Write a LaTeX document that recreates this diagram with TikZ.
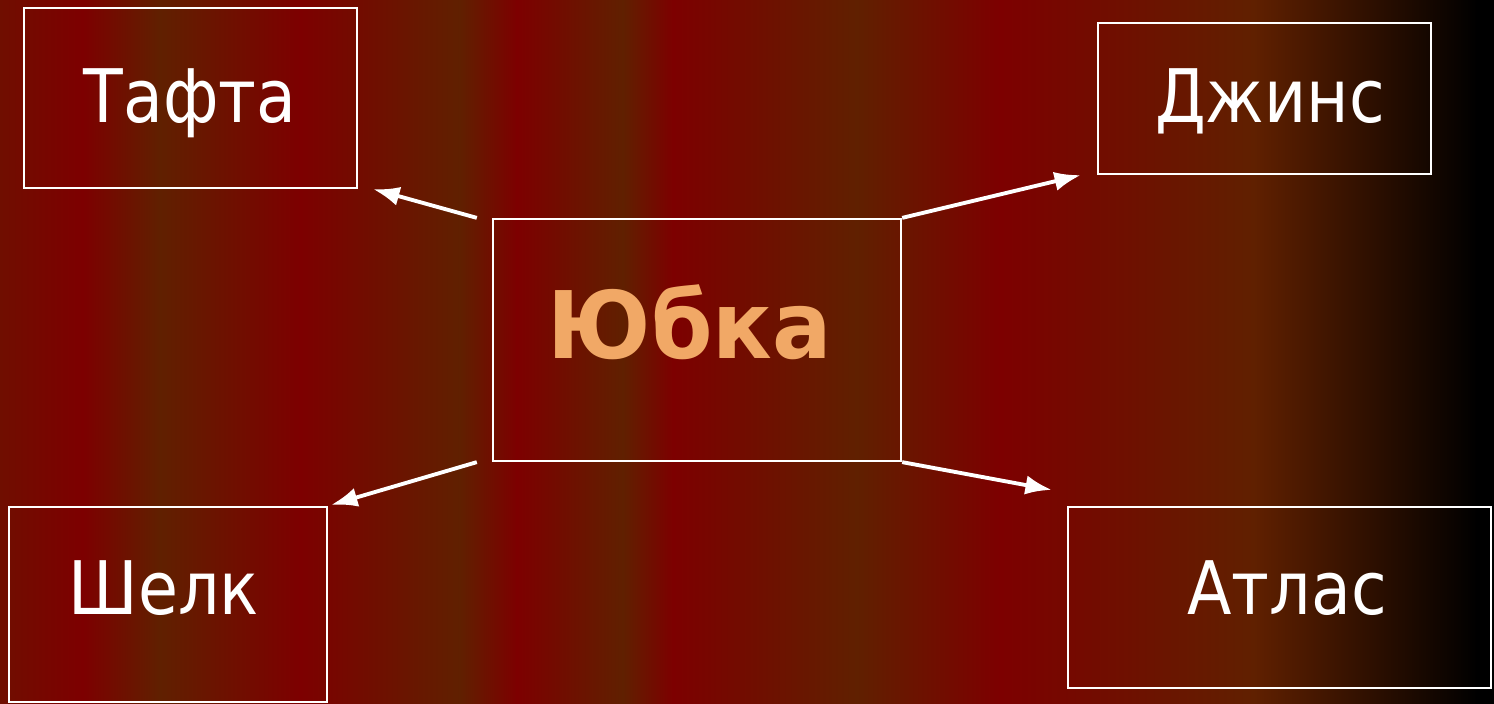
\documentclass[tikz,border=0pt]{standalone}
\usepackage{fontspec}
\setmainfont{DejaVu Sans}
\usepackage{xcolor}
\usepackage{graphicx}
\usetikzlibrary{arrows.meta}
\definecolor{stripered}{RGB}{125,0,0}
\definecolor{stripebrown}{RGB}{96,32,0}
\definecolor{stripeedge}{RGB}{112,14,0}
\definecolor{skirtorange}{RGB}{241,168,102}
\newcommand{\narrow}[2][0.88]{\scalebox{#1}[1]{#2}}
\tikzset{box node/.style={draw=white,line width=0.6pt,inner sep=0pt,fill=none},
  word node/.style={text=white,font=\fontsize{21}{25}\selectfont,anchor=base,inner sep=0pt},
  link/.style={draw=white,line width=1.1pt,-{Latex[length=7.5pt,width=5.5pt]}}}

\begin{document}
\begin{tikzpicture}[x=0.01cm,y=-0.01cm]
\useasboundingbox (0,0) rectangle (1494,703);

 % striped background
 \foreach \xa/\ca/\xb/\cb in {0/stripeedge/83/stripered, 83/stripered/160/stripebrown,
   160/stripebrown/300/stripered, 300/stripered/460/stripebrown, 460/stripebrown/517/stripered,
   517/stripered/623/stripebrown, 623/stripebrown/673/stripered, 673/stripered/857/stripebrown,
   857/stripebrown/1000/stripered, 1000/stripered/1254/stripebrown, 1254/stripebrown/1477/black,
   1477/black/1495/black}
   \shade[left color=\ca,right color=\cb] (\xa-0.5,-1) rectangle (\xb+0.5,704);

 \node[box node,minimum width=4.08cm,minimum height=2.42cm] (skirt) at (697,340) {};
 \node[box node,minimum width=3.33cm,minimum height=1.80cm] (tafta) at (190.5,98) {};
 \node[box node,minimum width=3.33cm,minimum height=1.51cm] (jeans) at (1264.5,98.5) {};
 \node[box node,minimum width=3.18cm,minimum height=1.95cm] (silk) at (168,604.5) {};
 \node[box node,minimum width=4.23cm,minimum height=1.81cm] (satin) at (1279.5,597.5) {};

 \node[word node,text=skirtorange,font=\fontsize{26.5}{30}\selectfont\bfseries] (skirt text) at (690,358) {\narrow[0.945]{Юбка}};
 \node[word node] (tafta text) at (190,122) {\narrow{Тафта}};
 \node[word node] (jeans text) at (1270,122) {\narrow{Джинс}};
 \node[word node] (silk text) at (164,614) {\narrow{Шелк}};
 \node[word node] (satin text) at (1287,614) {\narrow{Атлас}};

 \path[link] ([xshift=-0.15cm]skirt.north west) -- ([xshift=0.15cm]tafta.south east);
 \path[link] (skirt.north east) -- ([xshift=-0.16cm]jeans.south west);
 \path[link] ([xshift=-0.15cm]skirt.south west) -- ([xshift=0.03cm,yshift=0.01cm]silk.north east);
 \path[link] (skirt.south east) -- ([xshift=-0.15cm,yshift=0.16cm]satin.north west);
\end{tikzpicture}
\end{document}
